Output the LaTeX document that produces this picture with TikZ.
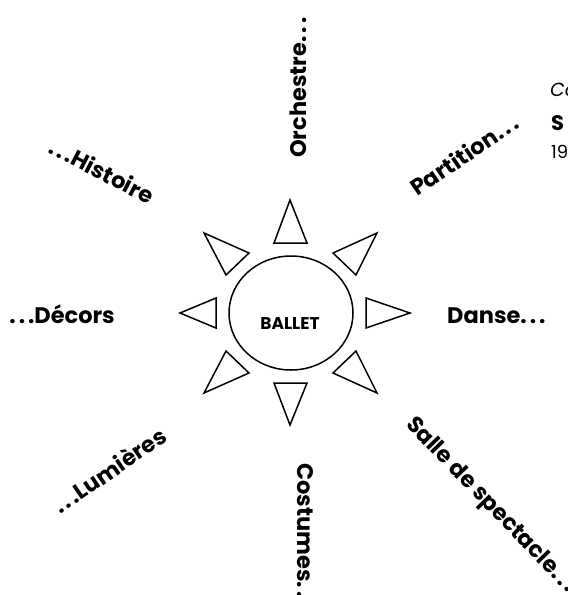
\documentclass[tikz,border=0pt]{standalone}
\usepackage{fontspec}
\usetikzlibrary{shapes.geometric}
\setmainfont{Poppins}
\newcommand{\dts}{.\kern3pt.\kern3pt.}
\begin{document}
\begin{tikzpicture}[x=1pt,y=-1pt,
  lbl/.style={font=\bfseries\fontsize{22.5}{24}\selectfont, inner sep=0pt},
  ray/.style={line width=1.5pt, line join=miter},
  note/.style={font=\fontsize{21}{23}\selectfont, inner sep=0pt, anchor=base west}]
\useasboundingbox (0,0) rectangle (568,595);
% sun body
\node[draw, line width=1.5pt, ellipse, minimum width=124pt, minimum height=114pt, inner sep=0pt] (ballet) at (291,313) {};
\node[font=\bfseries\fontsize{17}{19}\selectfont, inner sep=0pt, anchor=base] (balletlbl) at (290,329) {BALLET};
% rays
\draw[ray] (290,200) -- (274,243) -- (307,243) -- cycle;
\draw[ray] (290,425) -- (274,383) -- (307,383) -- cycle;
\draw[ray] (180,313) -- (216,298) -- (216,328) -- cycle;
\draw[ray] (410,313) -- (366,298) -- (366,328) -- cycle;
\draw[ray] (204,233) -- (249,253) -- (226,275) -- cycle;
\draw[ray] (377,233) -- (333,253) -- (356,275) -- cycle;
\draw[ray] (204,393) -- (226,351) -- (249,373) -- cycle;
\draw[ray] (377,393) -- (356,351) -- (333,373) -- cycle;
% labels
\node[lbl, rotate=90, anchor=base west] (orch) at (306,158) {Orchestre\dts};
\node[lbl, rotate=-90, anchor=base west] (cost) at (297,463) {Costumes\dts};
\node[lbl, anchor=base west] (danse) at (447,323) {Danse\dts};
\node[lbl, anchor=base east] (decors) at (115,323) {\dts Décors};
\node[lbl, rotate=-27.5, anchor=base west] (hist) at (47,152) {\dts Histoire};
\node[lbl, rotate=34, anchor=base west] (part) at (417,197) {Partition\dts};
\node[lbl, rotate=34.5, anchor=base west] (lum) at (60,515) {\dts Lumières};
\node[lbl, rotate=-46, anchor=base west] (salle) at (405,425) {Salle de spectacle\dts};
% cut-off note at right edge
\node[note, font=\itshape\fontsize{19}{21}\selectfont] (n1) at (550,96) {Co};
\node[note, font=\bfseries\fontsize{21}{23}\selectfont] (n2) at (551,130) {S};
\node[note, font=\fontsize{18}{20}\selectfont] (n3) at (551,158) {19};
\end{tikzpicture}
\end{document}
